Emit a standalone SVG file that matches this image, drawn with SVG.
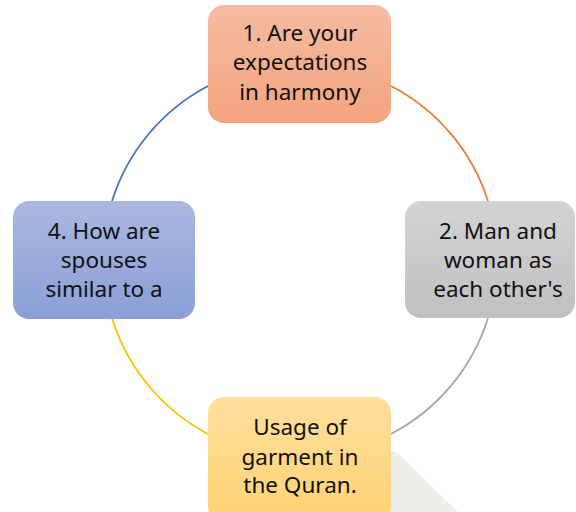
<svg xmlns="http://www.w3.org/2000/svg" width="576" height="512" viewBox="0 0 576 512">
  <defs>
    <linearGradient id="g1" x1="0" y1="0" x2="0" y2="1">
      <stop offset="0" stop-color="#F5BCA2"/>
      <stop offset="1" stop-color="#F4A37E"/>
    </linearGradient>
    <linearGradient id="g2" x1="0" y1="0" x2="0" y2="1">
      <stop offset="0" stop-color="#D3D3D3"/>
      <stop offset="1" stop-color="#C0C0C0"/>
    </linearGradient>
    <linearGradient id="g3" x1="0" y1="0" x2="0" y2="1">
      <stop offset="0" stop-color="#FFDF9E"/>
      <stop offset="1" stop-color="#FFD373"/>
    </linearGradient>
    <linearGradient id="g4" x1="0" y1="0" x2="0" y2="1">
      <stop offset="0" stop-color="#A9B8E0"/>
      <stop offset="1" stop-color="#8A9FD6"/>
    </linearGradient>
  </defs>
  <style>
    .lbl { font-family: "Noto Sans", "Open Sans", sans-serif; font-size: 22.5px; fill: #111; text-anchor: middle; }
    .arc { fill: none; stroke-width: 1.8; }
  </style>
  <rect width="576" height="512" fill="#ffffff"/>
  <path d="M 391 452 Q 395 450 400 455 L 458 512 L 391 512 Z" fill="#EFEEEB"/>
  <g id="connectors">
    <path class="arc" d="M 112 201 A 197 197 0 0 1 208 86" stroke="#4472C4"/>
    <path class="arc" d="M 391 86 A 197 197 0 0 1 488 201" stroke="#ED7D31"/>
    <path class="arc" d="M 488 318 A 197 197 0 0 1 391 434" stroke="#A5A5A5"/>
    <path class="arc" d="M 208 434 A 197 197 0 0 1 112 318" stroke="#FFC000"/>
  </g>
  <g id="node1">
    <rect x="208" y="5" width="183" height="118" rx="16" fill="url(#g1)"/>
    <text class="lbl" x="300" y="41">1. Are your</text>
    <text class="lbl" x="300" y="70">expectations</text>
    <text class="lbl" x="300" y="99.5">in harmony</text>
  </g>
  <g id="node2">
    <rect x="405" y="201" width="170" height="117" rx="16" fill="url(#g2)"/>
    <text class="lbl" x="498" y="238.5">2. Man and</text>
    <text class="lbl" x="498" y="267.5">woman as</text>
    <text class="lbl" x="498" y="296.5">each other's</text>
  </g>
  <g id="node3">
    <rect x="208" y="397" width="183" height="125" rx="16" fill="url(#g3)"/>
    <text class="lbl" x="300" y="435">Usage of</text>
    <text class="lbl" x="300" y="464.5">garment in</text>
    <text class="lbl" x="300" y="493">the Quran.</text>
  </g>
  <g id="node4">
    <rect x="13" y="201" width="182" height="118" rx="16" fill="url(#g4)"/>
    <text class="lbl" x="104" y="238.5">4. How are</text>
    <text class="lbl" x="104" y="267.5">spouses</text>
    <text class="lbl" x="104" y="296.5">similar to a</text>
  </g>
</svg>
